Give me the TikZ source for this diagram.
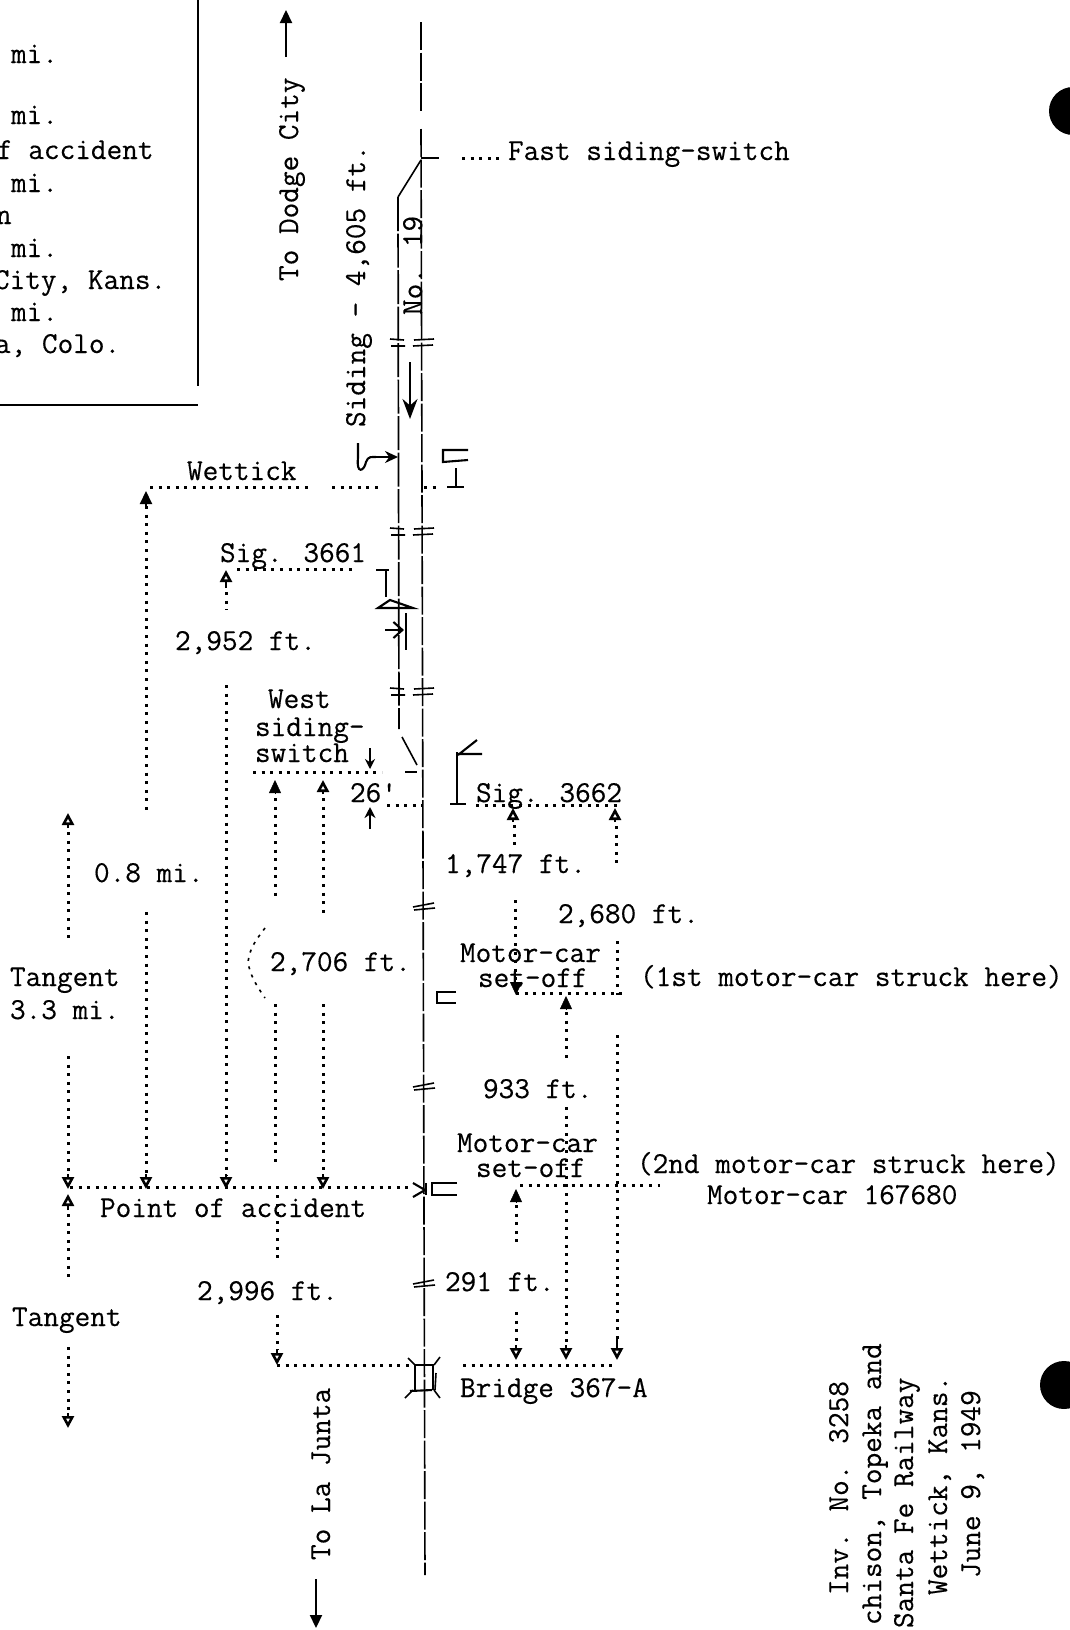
\documentclass[tikz,border=0pt]{standalone}
\usepackage{fontspec}
\newfontfamily\typed{Latin Modern Mono}[FakeBold=0.35]
\usetikzlibrary{arrows.meta}
\tikzset{
  x=1pt,y=-1pt,
  txt/.style={anchor=base west,inner sep=0pt,outer sep=0pt,font=\typed\fontsize{30.4}{30.4}\selectfont,text=black},
  vtxt/.style={txt,rotate=90},
  rule/.style={line width=1.7pt,black},
  track/.style={line width=1.6pt,dash pattern=on 28pt off 2.5pt,black},
  sidetrack/.style={line width=1.7pt,dash pattern=on 34pt off 2.5pt,black},
  dots/.style={line width=3pt,dash pattern=on 3pt off 5.6pt,black},
  fine/.style={line width=1.6pt,black},
  bold/.style={line width=2.1pt,black},
  solidhead/.style={-{Triangle[length=13pt,width=12pt]}},
  openhead/.style={line width=2pt,-{Triangle[open,length=12pt,width=12pt,line width=2.6pt]}},
  hole/.style={fill=black,draw=none}
}
\begin{document}
\begin{tikzpicture}
\useasboundingbox (0,0) rectangle (1069,1630);
% punched holes
\fill[hole] (1073,111) circle (24);
\fill[hole] (1064,1385) circle (24);
% table frame
\draw[rule] (198,0) -- (198,386);
\draw[rule] (0,405) -- (198,405);
\node[txt] (t1) at (11,63) {mi.};
\node[txt] (t2) at (11,124) {mi.};
\node[txt] (t3) at (-3,159) {f accident};
\node[txt] (t4) at (11,192) {mi.};
\node[txt] (t5) at (-4,224) {n};
\node[txt] (t6) at (11,257) {mi.};
\node[txt] (t7) at (-6,289) {City, Kans.};
\node[txt] (t8) at (11,321) {mi.};
\node[txt] (t9) at (-5,353) {a, Colo.};
% direction labels
\node[vtxt] (dodge) at (298,281) {To Dodge City};
\draw[bold,solidhead] (286,57) -- (286,10);
\node[vtxt] (junta) at (330,1560) {To La Junta};
\draw[bold,solidhead] (316,1579) -- (316,1628);
\node[vtxt] (siding) at (365,427) {Siding - 4,605 ft.};
\node[vtxt] (no19) at (422,315) {No. 19};
% main track and siding
\draw[track] (421,22) -- (421,113);
\draw[track] (421,129) -- (425,1575);
\draw[fine] (421,160) -- (398,197);
\draw[sidetrack] (398,197) -- (399,729);
\draw[fine] (402,737) -- (417,765);
\draw[bold] (405,772) -- (417,772);
\draw[bold] (421,158) -- (439,158);
\draw[dots] (462,158) -- (501,158);
\node[txt] (fast) at (508,160) {Fast siding-switch};
% insulated joints
\foreach \y in {339,528,688}{
  \draw[fine] (390,\y) -- (404,\y+1) (414,\y+1) -- (434,\y);
  \draw[fine] (391,\y+7) -- (405,\y+7) (413,\y+7) -- (433,\y+6);
}
\foreach \y in {904,1084,1281}{
  \draw[fine] (413,\y+3) -- (434,\y-1);
  \draw[fine] (414,\y+6) -- (435,\y+4);
}
% train arrow
\draw[bold,-{Stealth[length=20pt,width=15pt]}] (410,362) -- (410,419);
% squiggle and signal at Wettick
\draw[bold] (358,443) -- (358,458) .. controls (356,474) and (364,472) .. (366,462) .. controls (368,456) and (372,457) .. (376,457);
\draw[bold,-{Stealth[length=13pt,width=12pt]}] (374,457) -- (398,457);
\draw[bold] (468,450) -- (443,450) -- (443,462) -- (468,460);
\draw[bold] (456,468) -- (456,487) (447,487) -- (464,487);
% Wettick
\node[txt] (wettick) at (187,480) {Wettick};
\draw[dots] (150,487) -- (312,487);
\draw[dots] (332,487) -- (380,487);
\draw[dots] (424,487) -- (441,487);
\draw[bold,solidhead] (146,506) -- (146,491);
\draw[dots] (146,506) -- (146,810);
\draw[dots] (146,912) -- (146,1176);
\draw[openhead] (146,1174) -- (146,1189);
\node[txt] (mi08) at (94,882) {0.8 mi.};
% Sig 3661
\node[txt] (s3661) at (220,562) {Sig. 3661};
\draw[dots] (237,569) -- (355,569);
\draw[openhead] (226,588) -- (226,570);
\draw[dots] (226,592) -- (226,610);
\node[txt] (ft2952) at (175,650) {2,952 ft.};
\draw[dots] (226,685) -- (226,1176);
\draw[openhead] (226,1174) -- (226,1189);
\draw[bold] (376,570) -- (389,570) (386,570) -- (386,597);
\draw[bold] (378,608) -- (390,600) -- (413,608) -- cycle;
\draw[bold] (406,613) -- (406,650);
\draw[bold,-{Straight Barb[length=9pt,width=16pt]}] (385,630) -- (404,630);
% west siding-switch
\node[txt] (west) at (268,708) {West};
\node[txt] (sidsw) at (255,736) {siding-};
\node[txt] (swit) at (255,762) {switch};
\draw[dots] (253,772) -- (382,772);
\draw[bold,-{Stealth[length=10pt,width=10pt]}] (370,748) -- (370,769);
\node[txt] (w26) at (350,802) {26'};
\draw[bold,-{Stealth[length=11pt,width=11pt]}] (370,829) -- (370,807);
\draw[dots] (387,805) -- (423,805);
\draw[solidhead] (275,794) -- (275,780);
\draw[openhead] (323,794) -- (323,780);
\draw[dots] (275,798) -- (275,900);
\draw[dots] (323,798) -- (323,915);
\node[txt] (ft2706) at (270,971) {2,706 ft.};
\draw[dots,line width=1.6pt] (265,928) .. controls (252,945) and (250,950) .. (248,962) .. controls (250,975) and (256,985) .. (265,998);
\draw[dots] (275,1004) -- (275,1163);
\draw[dots] (323,1004) -- (323,1176);
\draw[openhead] (323,1174) -- (323,1189);
% Tangent
\draw[openhead] (68,828) -- (68,813);
\draw[dots] (68,832) -- (68,941);
\node[txt] (tan1) at (10,986) {Tangent};
\node[txt] (tan2) at (10,1019) {3.3 mi.};
\draw[dots] (68,1056) -- (68,1176);
\draw[openhead] (68,1174) -- (68,1189);
\draw[openhead] (68,1210) -- (68,1194);
\draw[dots] (68,1214) -- (68,1279);
\node[txt] (tan3) at (12,1326) {Tangent};
\draw[dots] (68,1347) -- (68,1415);
\draw[openhead] (68,1413) -- (68,1428);
% Point of accident
\draw[dots] (70,1187) -- (410,1187);
\node[txt] (poa) at (100,1217) {Point of accident};
\draw[dots] (277,1195) -- (277,1258);
\node[txt] (ft2996) at (197,1300) {2,996 ft.};
\draw[dots] (277,1315) -- (277,1350);
\draw[openhead] (277,1350) -- (277,1365);
\draw[dots] (277,1365) -- (411,1365);
% Sig 3662
\draw[bold] (457,752) -- (457,804) (450,804) -- (466,804);
\draw[bold] (457,754) -- (482,754) (458,755) -- (477,740);
\node[txt] (s3662) at (476,802) {Sig. 3662};
\draw[dots] (476,805) -- (620,805);
\draw[openhead] (513,822) -- (513,808);
\draw[openhead] (615,822) -- (615,808);
\draw[dots] (514,825) -- (514,848);
\draw[dots] (515,900) -- (515,983);
\node[txt] (ft1747) at (445,873) {1,747 ft.};
\draw[dots] (616,826) -- (616,868);
\node[txt] (ft2680) at (558,923) {2,680 ft.};
\draw[dots] (617,941) -- (617,995);
\draw[dots] (617,1035) -- (617,1340);
\draw[openhead] (617,1338) -- (617,1360);
% 1st motor-car set-off
\node[txt] (mc1) at (460,962) {Motor-car};
\node[txt] (so1) at (478,987) {set-off};
\draw[solidhead] (516,982) -- (516,995);
\draw[dots] (516,993) -- (622,993);
\draw[bold] (456,992) -- (437,992) -- (437,1003) -- (456,1003);
\node[txt] (st1) at (640,986) {(1st motor-car struck here)};
\draw[solidhead] (566,1010) -- (566,996);
\draw[dots] (566,1012) -- (566,1063);
\node[txt] (ft933) at (483,1098) {933 ft.};
\draw[dots] (566,1107) -- (566,1345);
\draw[openhead] (566,1345) -- (566,1360);
% 2nd motor-car set-off
\node[txt] (mc2) at (457,1152) {Motor-car};
\node[txt] (so2) at (476,1177) {set-off};
\draw[dots] (520,1185) -- (660,1185);
\node[txt] (st2) at (637,1173) {(2nd motor-car struck here)};
\node[txt] (car) at (707,1204) {Motor-car 167680};
\draw[bold] (413,1183) -- (425,1190) -- (413,1197);
\draw[bold] (457,1183) -- (432,1183) -- (432,1195) -- (457,1195);
\draw[bold] (426,1183) -- (426,1195);
\draw[solidhead] (516,1203) -- (516,1189);
\draw[dots] (516,1205) -- (516,1245);
\node[txt] (ft291) at (445,1291) {291 ft.};
\draw[dots] (516,1312) -- (516,1345);
\draw[openhead] (516,1345) -- (516,1360);
% bridge
\draw[dots] (463,1365) -- (614,1365);
\draw[fine] (415,1390) -- (415,1365) -- (433,1365) -- (433,1390);
\draw[bold] (410,1391) -- (432,1390);
\draw[fine] (408,1358) -- (415,1365) (440,1357) -- (434,1365);
\draw[fine] (405,1398) -- (413,1390) (440,1398) -- (434,1390);
\draw[fine] (436,1373) -- (435,1390);
\node[txt] (bridge) at (460,1397) {Bridge 367-A};
% title
\node[vtxt] (i1) at (848,1595) {Inv. No. 3258};
\node[vtxt] (i2) at (881,1625) {chison, Topeka and};
\node[vtxt] (i3) at (913,1628) {Santa Fe Railway};
\node[vtxt] (i4) at (947,1595) {Wettick, Kans.};
\node[vtxt] (i5) at (980,1578) {June 9, 1949};
\end{tikzpicture}
\end{document}
